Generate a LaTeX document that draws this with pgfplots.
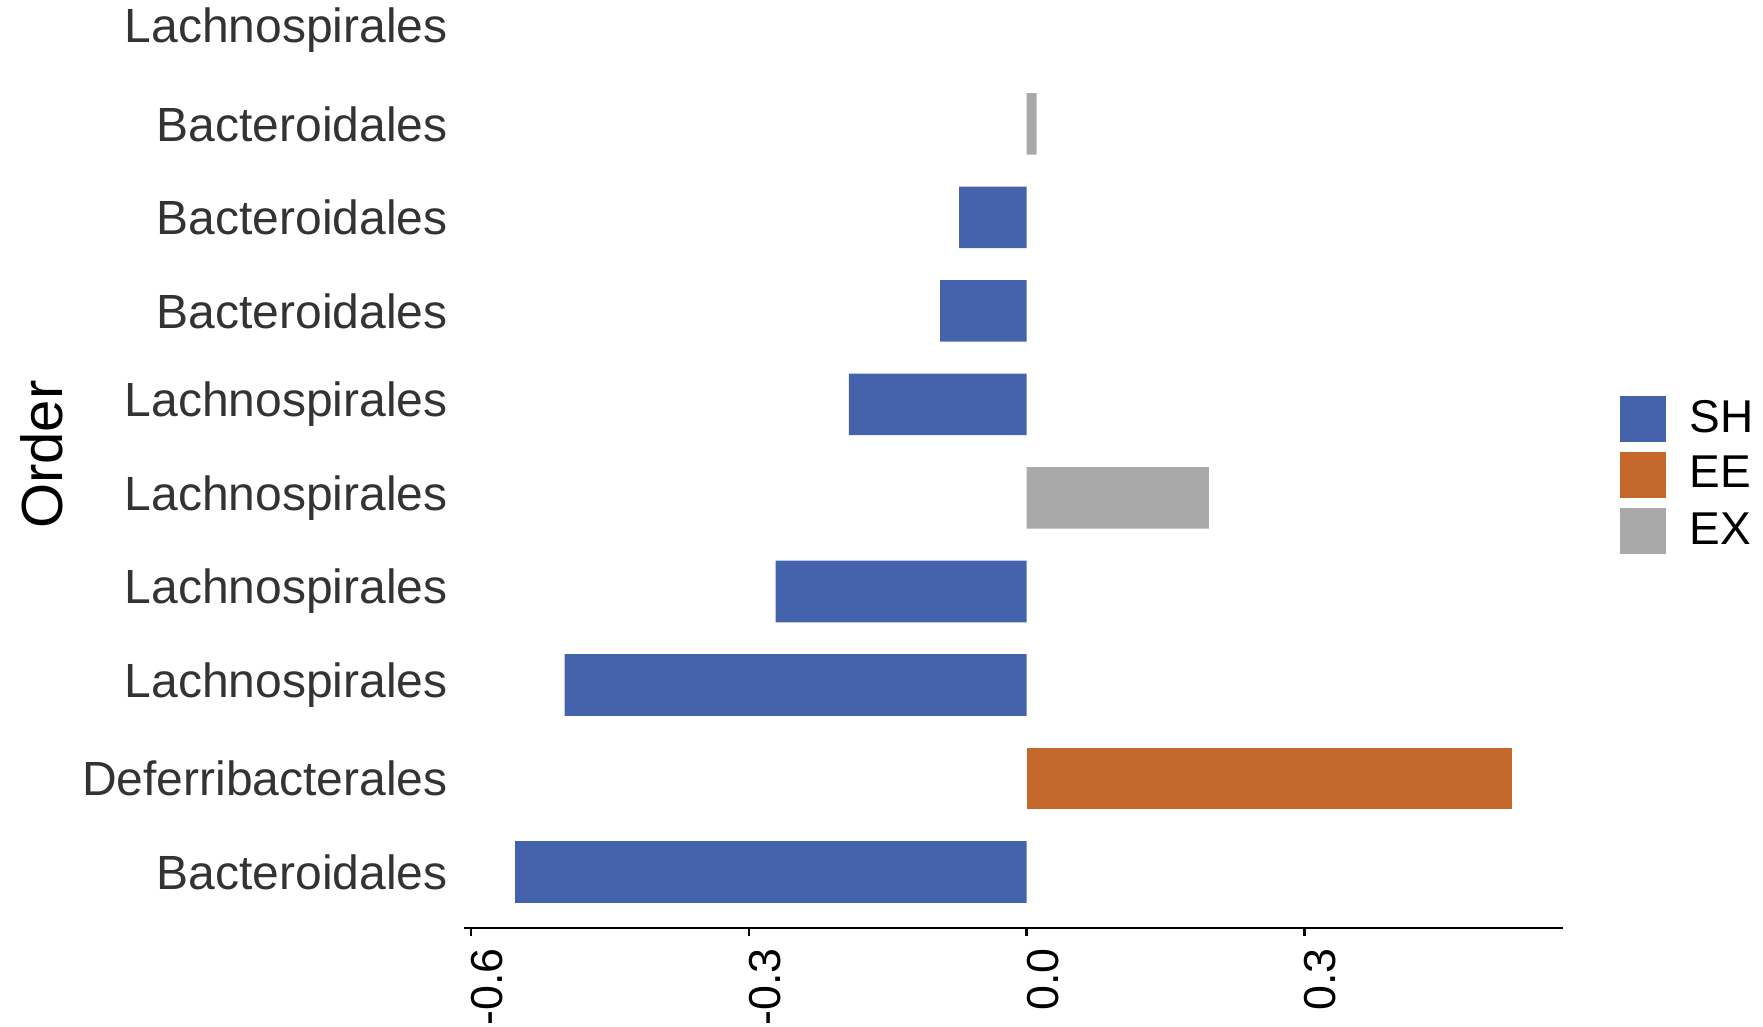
\documentclass[border=0pt]{standalone}
\usepackage{pgfplots}
\pgfplotsset{compat=1.18}
\usepackage{fontspec}
\setmainfont{Liberation Sans}

\definecolor{shblue}{RGB}{69,99,173}
\definecolor{eeorange}{RGB}{197,104,44}
\definecolor{exgray}{RGB}{169,169,169}

\begin{document}
\begin{tikzpicture}
\begin{axis}[
  scale only axis,
  width=274.75pt, height=232pt,
  xmin=-0.6077, xmax=0.5794,
  ymin=0.4, ymax=10.325,
  xbar, bar shift=0pt, bar width=0.66,
  axis x line*=bottom, axis y line*=left,
  x axis line style={line width=0.6pt, black, -},
  y axis line style={draw=none},
  xtick={-0.6,-0.3,0,0.3},
  xticklabels={-0.6,-0.3,0.0,0.3},
  xtick align=outside,
  xtick style={line width=0.6pt, black},
  major tick length=2pt,
  xticklabel style={font=\fontsize{11.2}{12}\selectfont, inner sep=2.9pt, xshift=4pt, rotate=90, anchor=east},
  ytick={1,...,10},
  yticklabels={Bacteroidales,Deferribacterales,Lachnospirales,Lachnospirales,Lachnospirales,Lachnospirales,Bacteroidales,Bacteroidales,Bacteroidales,Lachnospirales},
  ytick style={draw=none},
  yticklabel style={font=\fontsize{12}{12}\selectfont, color=black!80, inner sep=0pt, xshift=-1.9pt},
  ylabel={Order},
  ylabel style={font=\fontsize{14.5}{14.5}\selectfont, at={(axis description cs:-0.3843,0.51)}, anchor=center},
  legend style={at={(axis description cs:1.0519,0.5733)}, anchor=north west,
    draw=none, fill=none, inner sep=0pt, outer sep=0pt, row sep=2.4pt,
    font=\fontsize{11.5}{11.5}\selectfont,
    nodes={inner sep=0pt}},
  % square key followed by a small gap before the entry text
  legend image code/.code={%
    \fill (0pt,-5.8pt) rectangle (11.6pt,5.8pt);
    \path (17.35pt,0pt);},
  legend cell align=left,
]
% SH
\addplot[draw=none, fill=shblue] coordinates {
  (-0.5526,1) (-0.499,3) (-0.271,4) (-0.192,6) (-0.0935,7) (-0.0729,8)
};
\addlegendentry{SH}
% EE
\addplot[draw=none, fill=eeorange] coordinates {
  (0.5246,2)
};
\addlegendentry{EE}
% EX
\addplot[draw=none, fill=exgray] coordinates {
  (0.197,5) (0.0109,9)
};
\addlegendentry{EX}
\end{axis}
\pgfresetboundingbox
\path[use as bounding box] (-116pt,-24.5pt) rectangle (324.75pt,232pt);
\end{tikzpicture}
\end{document}
